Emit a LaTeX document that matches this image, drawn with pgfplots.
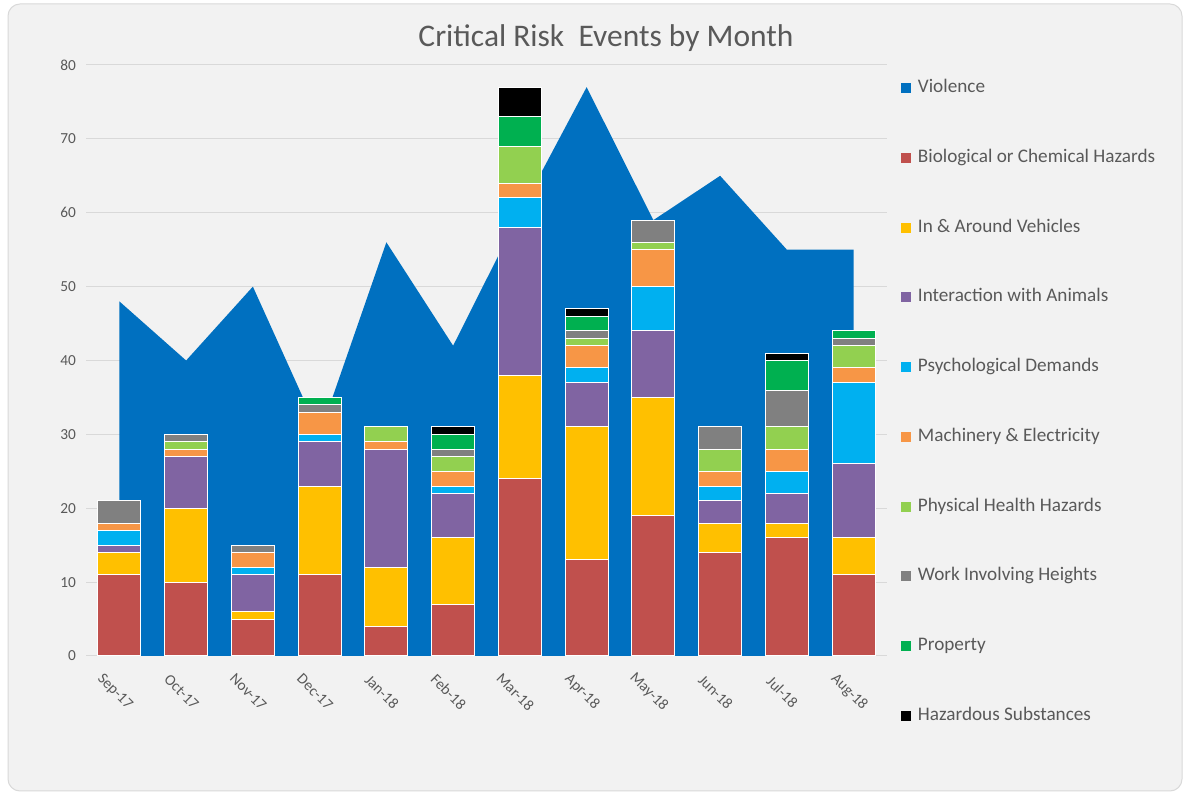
\documentclass[border=0pt]{standalone}
\usepackage{pgfplots}
\usepackage{pgfplotstable}
\pgfplotsset{compat=1.18}
\usepackage{fontspec}
\setmainfont{Carlito}
\definecolor{violence}{HTML}{0070C0}
\definecolor{bio}{HTML}{C0504D}
\definecolor{veh}{HTML}{FFC000}
\definecolor{ani}{HTML}{8064A2}
\definecolor{psy}{HTML}{00B0F0}
\definecolor{mac}{HTML}{F79646}
\definecolor{phy}{HTML}{92D050}
\definecolor{hei}{HTML}{808080}
\definecolor{pro}{HTML}{00B050}
\definecolor{haz}{HTML}{000000}
\definecolor{txt}{HTML}{595959}
\definecolor{gridc}{HTML}{D9D9D9}
\definecolor{bgc}{HTML}{F2F2F2}

\pgfplotstableread{
x vio bio veh ani psy mac phy hei pro haz
0 48 11 3 1 2 1 0 3 0 0
1 40 10 10 7 0 1 1 1 0 0
2 50 5 1 5 1 2 0 1 0 0
3 30 11 12 6 1 3 0 1 1 0
4 56 4 8 16 0 1 2 0 0 0
5 42 7 9 6 1 2 2 1 2 1
6 60 24 14 20 4 2 5 0 4 4
7 77 13 18 6 2 3 1 1 2 1
8 59 19 16 9 6 5 1 3 0 0
9 65 14 4 3 2 2 3 3 0 0
10 55 16 2 4 3 3 3 5 4 1
11 55 11 5 10 11 2 3 1 1 0
}\data

\begin{document}
\begin{tikzpicture}
\path[fill=white] (0pt,0pt) rectangle (891pt,596.25pt);
\path[fill=bgc, draw=gridc, line width=0.75pt, rounded corners=9pt] (6pt,3pt) rectangle (886.5pt,593.25pt);
\node[font=\fontsize{23.6}{28}\selectfont, text=txt] at (454.5pt,567.75pt) {Critical Risk\ \ Events by Month};

\begin{axis}[
  at={(64.5pt,104.25pt)}, anchor=south west, scale only axis,
  width=600.75pt, height=443.25pt,
  xmin=-0.5, xmax=11.5, ymin=0, ymax=80,
  ytick={0,10,...,80}, xtick={0,...,11},
  xticklabels={Sep-17,Oct-17,Nov-17,Dec-17,Jan-18,Feb-18,Mar-18,Apr-18,May-18,Jun-18,Jul-18,Aug-18},
  axis lines*=left,
  x axis line style={gridc, line width=0.75pt},
  y axis line style={draw=none},
  major tick length=0pt,
  ymajorgrids, grid style={gridc, line width=0.75pt},
  tick label style={text=txt, font=\fontsize{11.5}{13}\selectfont},
  /pgf/number format/assume math mode=true,
  yticklabel style={anchor=east, xshift=-4pt},
  xticklabel style={anchor=center, xshift=-3.4pt, yshift=-27pt, rotate=-45},
]
\addplot[fill=violence, draw=none] table[x=x,y=vio]{\data} \closedcycle;
\end{axis}

\begin{axis}[
  at={(64.5pt,104.25pt)}, anchor=south west, scale only axis,
  width=600.75pt, height=443.25pt,
  xmin=-0.5, xmax=11.5, ymin=0, ymax=80,
  hide axis,
  ybar stacked, bar width=32.25pt,
  every axis plot/.append style={draw=white, line width=0.75pt},
  legend image code/.code={\draw[#1,draw=none] (0pt,-3.75pt) rectangle (7.5pt,3.75pt);},
  legend style={at={(1.0125,0.985)}, anchor=north west, draw=none, fill=none,
    font=\fontsize{14.4}{17}\selectfont, text=txt, row sep=35.3pt,
    nodes={text height=10pt, text depth=3pt},
    /tikz/every odd column/.append style={column sep=3pt}},
  legend cell align=left,
]
\addlegendimage{fill=violence, draw=none}
\addlegendentry{Violence}
\addplot[fill=bio] table[x=x,y=bio]{\data};
\addlegendentry{Biological or Chemical Hazards}
\addplot[fill=veh] table[x=x,y=veh]{\data};
\addlegendentry{In \& Around Vehicles}
\addplot[fill=ani] table[x=x,y=ani]{\data};
\addlegendentry{Interaction with Animals}
\addplot[fill=psy] table[x=x,y=psy]{\data};
\addlegendentry{Psychological Demands}
\addplot[fill=mac] table[x=x,y=mac]{\data};
\addlegendentry{Machinery \& Electricity}
\addplot[fill=phy] table[x=x,y=phy]{\data};
\addlegendentry{Physical Health Hazards}
\addplot[fill=hei] table[x=x,y=hei]{\data};
\addlegendentry{Work Involving Heights}
\addplot[fill=pro] table[x=x,y=pro]{\data};
\addlegendentry{Property}
\addplot[fill=haz] table[x=x,y=haz]{\data};
\addlegendentry{Hazardous Substances}
\end{axis}
\end{tikzpicture}
\end{document}
